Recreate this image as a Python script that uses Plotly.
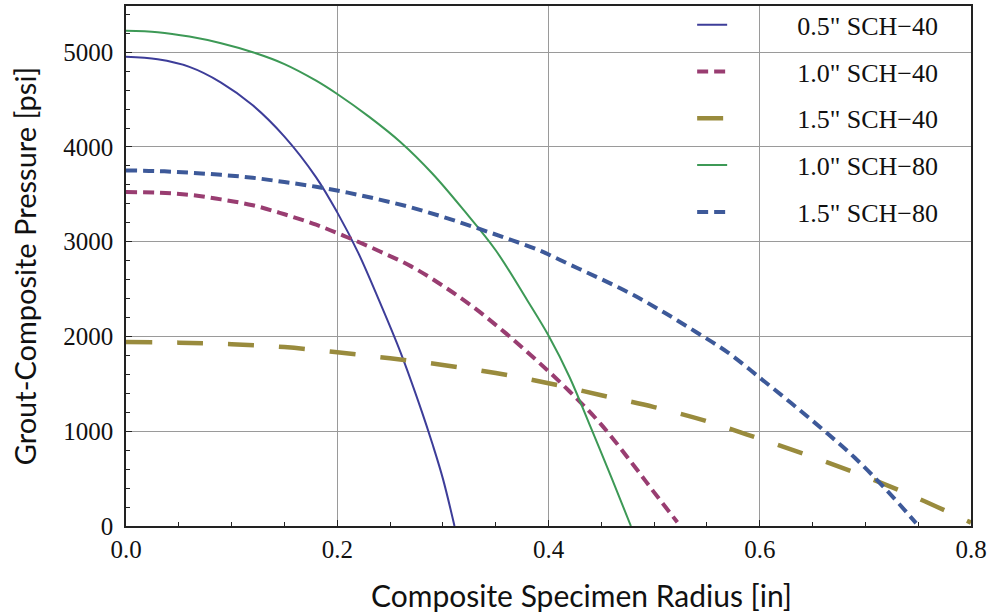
import plotly.graph_objects as go

# ---------------- data ----------------
names = ['0.5" SCH\u221240', '1.0" SCH\u221240', '1.5" SCH\u221240',
         '1.0" SCH\u221280', '1.5" SCH\u221280']

r_05_40 = [0, 0.03, 0.06, 0.09, 0.12, 0.15, 0.18, 0.20, 0.22, 0.24, 0.26, 0.28, 0.29, 0.30, 0.311]
p_05_40 = [4952, 4925, 4845, 4680, 4440, 4110, 3680, 3310, 2880, 2370, 1830, 1210, 870, 500, 0]

r_10_40 = [0, 0.03, 0.06, 0.09, 0.12, 0.15, 0.18, 0.21, 0.24, 0.27, 0.30, 0.33, 0.36, 0.39, 0.42, 0.45, 0.48, 0.50, 0.522]
p_10_40 = [3524, 3518, 3495, 3447, 3385, 3290, 3180, 3045, 2900, 2740, 2535, 2300, 2030, 1735, 1420, 1070, 650, 355, 40]

r_15_40 = [0, 0.05, 0.10, 0.15, 0.20, 0.25, 0.30, 0.35, 0.40, 0.45, 0.50, 0.55, 0.60, 0.65, 0.70, 0.75, 0.80]
p_15_40 = [1943, 1935, 1918, 1888, 1833, 1770, 1700, 1614, 1507, 1380, 1255, 1105, 920, 728, 522, 291, 36]

r_10_80 = [0, 0.03, 0.06, 0.09, 0.12, 0.15, 0.18, 0.20, 0.23, 0.26, 0.29, 0.32, 0.35, 0.38, 0.40, 0.42, 0.44, 0.46, 0.478]
p_10_80 = [5227, 5212, 5165, 5095, 5000, 4875, 4700, 4559, 4320, 4050, 3720, 3330, 2910, 2380, 2010, 1570, 1040, 500, 0]

r_15_80 = [0, 0.03, 0.06, 0.09, 0.12, 0.15, 0.18, 0.21, 0.24, 0.27, 0.30, 0.33, 0.36, 0.39, 0.42,
           0.45, 0.48, 0.51, 0.54, 0.57, 0.60, 0.63, 0.66, 0.69, 0.72, 0.748]
p_15_80 = [3753, 3746, 3729, 3706, 3675, 3630, 3580, 3518, 3445, 3362, 3263, 3153, 3037, 2915, 2760,
           2605, 2440, 2250, 2045, 1830, 1565, 1295, 1015, 720, 380, 30]

x_ticks = [0.0, 0.2, 0.4, 0.6, 0.8]
y_ticks = [0, 1000, 2000, 3000, 4000, 5000]

x_title = 'Composite Specimen Radius [in]'
y_title = 'Grout-Composite Pressure [psi]'

# ---------------- styling ----------------
colors = ['#3D3D99', '#993D71', '#998B3D', '#3D9956', '#3D5999']
widths = [2, 4, 4.5, 2, 4]
dashes = ['solid', '11px,6px', '26px,25px', 'solid', '11px,6px']
series = [(r_05_40, p_05_40), (r_10_40, p_10_40), (r_15_40, p_15_40),
          (r_10_80, p_10_80), (r_15_80, p_15_80)]

pad = '\u00a0' * 10

fig = go.Figure()
for i, ((xs, ys), nm) in enumerate(zip(series, names)):
    fig.add_trace(go.Scatter(
        x=xs, y=ys, mode='lines', name=pad + nm, legendgroup=f'g{i}',
        line=dict(color=colors[i], width=widths[i], dash=dashes[i],
                  shape='spline', smoothing=1.0),
    ))

axis_common = dict(
    showline=True, linecolor='#222222', linewidth=1.5, mirror=True,
    showgrid=True, gridcolor='#9a9a9a', gridwidth=1.2,
    zeroline=False, ticks='inside', ticklen=6, tickcolor='#222222',
    tickfont=dict(family='Liberation Serif', size=25, color='#111111'),
)

fig.update_xaxes(
    range=[0, 0.8], tickvals=x_ticks, tickformat='.1f',
    minor=dict(dtick=0.05, ticks='inside', ticklen=4, tickcolor='#222222', showgrid=False),
    ticklabelstandoff=0,
    **axis_common,
)
fig.update_yaxes(
    range=[0, 5488], tickvals=y_ticks,
    minor=dict(dtick=200, ticks='inside', ticklen=4, tickcolor='#222222', showgrid=False),
    title=dict(text=y_title,
               font=dict(family='Lato', size=29, color='#111111'), standoff=18),
    ticklabelstandoff=6,
    **axis_common,
)

# x-axis title (placed slightly right of centre, as in the reference)
fig.add_annotation(
    text=x_title, xref='paper', yref='paper', x=0.5396, y=-0.1327,
    xanchor='center', yanchor='middle', showarrow=False,
    font=dict(family='Lato', size=30, color='#111111'),
)

fig.update_layout(
    width=990, height=613,
    margin=dict(l=126, r=19, t=6, b=87, autoexpand=False),
    paper_bgcolor='white', plot_bgcolor='white',
    showlegend=True,
    legend=dict(x=0.670, y=1.009, xanchor='left', yanchor='top',
                bgcolor='rgba(0,0,0,0)', borderwidth=0,
                font=dict(family='Liberation Serif', size=26, color='#111111'),
                tracegroupgap=10, traceorder='grouped'),
)

fig.write_html('out.html', config={'displayModeBar': False},
               post_script="document.body.style.margin='0';document.body.style.overflow='hidden';")
